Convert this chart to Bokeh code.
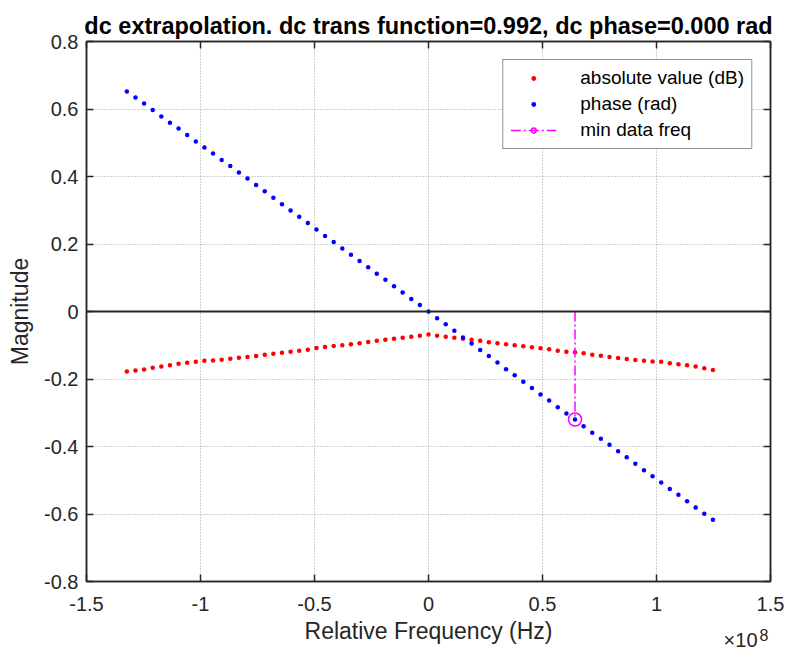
from bokeh.plotting import figure
from bokeh.models import Range1d, FixedTicker, LinearAxis, Span, Legend, LegendItem, Title
from bokeh.embed import file_html
from bokeh.resources import INLINE

# ---------------- data ----------------
freq_mhz = [-132.30, -128.52, -124.74, -120.96, -117.18, -113.40, -109.62, -105.84, -102.06,
            -98.28, -94.50, -90.72, -86.94, -83.16, -79.38, -75.60, -71.82, -68.04, -64.26,
            -60.48, -56.70, -52.92, -49.14, -45.36, -41.58, -37.80, -34.02, -30.24, -26.46,
            -22.68, -18.90, -15.12, -11.34, -7.56, -3.78, 0.00, 3.78, 7.56, 11.34, 15.12,
            18.90, 22.68, 26.46, 30.24, 34.02, 37.80, 41.58, 45.36, 49.14, 52.92, 56.70,
            60.48, 64.26, 68.04, 71.82, 75.60, 79.38, 83.16, 86.94, 90.72, 94.50, 98.28,
            102.06, 105.84, 109.62, 113.40, 117.18, 120.96, 124.74]

abs_db = [-0.178, -0.175, -0.172, -0.167, -0.163, -0.159, -0.155, -0.152, -0.149, -0.146,
          -0.145, -0.143, -0.140, -0.137, -0.135, -0.132, -0.128, -0.125, -0.122, -0.119,
          -0.116, -0.113, -0.108, -0.105, -0.102, -0.100, -0.097, -0.094, -0.090, -0.087,
          -0.084, -0.081, -0.078, -0.075, -0.072, -0.068, -0.072, -0.075, -0.078, -0.081,
          -0.084, -0.087, -0.091, -0.094, -0.097, -0.100, -0.103, -0.106, -0.109, -0.112,
          -0.116, -0.119, -0.121, -0.124, -0.128, -0.131, -0.135, -0.138, -0.141, -0.144,
          -0.146, -0.148, -0.149, -0.153, -0.156, -0.159, -0.163, -0.168, -0.173]

phase_rad = [0.652, 0.634, 0.616, 0.597, 0.578, 0.559, 0.542, 0.523, 0.504, 0.486,
             0.468, 0.449, 0.431, 0.412, 0.394, 0.375, 0.356, 0.337, 0.318, 0.299,
             0.281, 0.262, 0.243, 0.224, 0.206, 0.187, 0.168, 0.150, 0.131, 0.112,
             0.094, 0.075, 0.056, 0.037, 0.019, 0.000, -0.020, -0.038, -0.057, -0.077,
             -0.095, -0.114, -0.132, -0.151, -0.171, -0.189, -0.208, -0.227, -0.246, -0.264,
             -0.284, -0.302, -0.320, -0.340, -0.359, -0.377, -0.395, -0.414, -0.432, -0.451,
             -0.470, -0.488, -0.507, -0.526, -0.543, -0.562, -0.581, -0.599, -0.617]

min_data_freq_mhz = 64.26
min_data_phase = -0.320

title_text = "dc extrapolation. dc trans function=0.992, dc phase=0.000 rad"
x_label = "Relative Frequency (Hz)"
y_label = "Magnitude"
series_labels = ["absolute value (dB)", "phase (rad)", "min data freq"]

x_ticks = [-1.5, -1.0, -0.5, 0.0, 0.5, 1.0, 1.5]
x_tick_labels = ["-1.5", "-1", "-0.5", "0", "0.5", "1", "1.5"]
y_ticks = [-0.8, -0.6, -0.4, -0.2, 0.0, 0.2, 0.4, 0.6, 0.8]
y_tick_labels = ["-0.8", "-0.6", "-0.4", "-0.2", "0", "0.2", "0.4", "0.6", "0.8"]
x_exponent_base = "\u00d710"
x_exponent = "8"

# ---------------- figure ----------------
FONT = "Liberation Sans"
AX = "#262626"

x = [f / 100.0 for f in freq_mhz]          # in units of 1e8 Hz
xm = min_data_freq_mhz / 100.0

p = figure(width=786, height=650, output_backend="svg", toolbar_location=None,
           x_range=Range1d(-1.5, 1.5), y_range=Range1d(-0.8, 0.8),
           min_border_left=86, min_border_right=16, min_border_top=41, min_border_bottom=69,
           x_axis_location="below", y_axis_location="left")
p.background_fill_color = "white"
p.border_fill_color = "white"
p.outline_line_color = AX
p.outline_line_width = 1.5

p.title.text = title_text
p.title.align = "center"
p.title.text_font = FONT
p.title.text_font_size = "23.5px"
p.title.text_font_style = "bold"
p.title.text_color = "black"
p.title.standoff = 6

xt = FixedTicker(ticks=x_ticks)
yt = FixedTicker(ticks=y_ticks)

for ax, tk, labs, ticks in [(p.xaxis[0], xt, x_tick_labels, x_ticks), (p.yaxis[0], yt, y_tick_labels, y_ticks)]:
    ax.ticker = tk
    ax.major_label_overrides = {t: l for t, l in zip(ticks, labs)}
    ax.major_tick_in = 7
    ax.major_tick_out = 0
    ax.minor_tick_line_color = None
    ax.axis_line_color = AX
    ax.axis_line_width = 1.5
    ax.major_tick_line_color = AX
    ax.major_tick_line_width = 1.5
    ax.major_label_text_font = FONT
    ax.major_label_text_font_size = "20px"
    ax.major_label_text_color = AX
    ax.axis_label_text_font = FONT
    ax.axis_label_text_font_size = "23px"
    ax.axis_label_text_font_style = "normal"
    ax.axis_label_text_color = AX

p.xaxis.axis_label = x_label
p.yaxis.axis_label = y_label
p.xaxis.major_label_standoff = 15
p.xaxis.axis_label_standoff = 4
p.yaxis.major_label_standoff = 8
p.yaxis.axis_label_standoff = 8

# mirrored axes (ticks only) on top and right
top_ax = LinearAxis(ticker=xt, major_tick_in=7, major_tick_out=0, minor_tick_line_color=None,
                    axis_line_color=AX, axis_line_width=1.5, major_tick_line_color=AX,
                    major_tick_line_width=1.5, major_label_text_color=None,
                    major_label_text_font_size="1px", major_label_standoff=0)
right_ax = LinearAxis(ticker=yt, major_tick_in=7, major_tick_out=0, minor_tick_line_color=None,
                      axis_line_color=AX, axis_line_width=1.5, major_tick_line_color=AX,
                      major_tick_line_width=1.5, major_label_text_color=None,
                      major_label_text_font_size="1px", major_label_standoff=0)
p.add_layout(top_ax, "above")
p.add_layout(right_ax, "right")

# x-axis exponent ("x10^8") placed under the axis, right-aligned (titles are not clipped)
p.add_layout(Title(text=x_exponent_base, align="right", offset=13, vertical_align="top",
                   standoff=-36, text_font=FONT, text_font_size="20px",
                   text_font_style="normal", text_color=AX), "below")
p.add_layout(Title(text=x_exponent, align="right", offset=2, vertical_align="top",
                   standoff=-36, text_font=FONT, text_font_size="16px",
                   text_font_style="normal", text_color=AX), "below")

for g in (p.xgrid[0], p.ygrid[0]):
    g.grid_line_color = "#a0a0a0"
    g.grid_line_dash = "1 2"
    g.grid_line_width = 1
p.xgrid.ticker = xt
p.ygrid.ticker = yt

# zero line
p.add_layout(Span(location=0, dimension="width", line_color=AX, line_width=1.8))

r_abs = p.scatter(x, abs_db, marker="circle", size=4.5, fill_color="#ff0000", line_color=None)
r_ph = p.scatter(x, phase_rad, marker="circle", size=4.5, fill_color="#0000ff", line_color=None)
r_ml = p.line([xm, xm], [0, min_data_phase], line_color="#ff00ff", line_width=1.5, line_dash="10 3 2 3")
r_mc = p.scatter([xm], [min_data_phase], marker="circle", size=13, fill_color=None,
                 line_color="#ff00ff", line_width=1.5)

legend = Legend(items=[LegendItem(label=series_labels[0], renderers=[r_abs]),
                       LegendItem(label=series_labels[1], renderers=[r_ph]),
                       LegendItem(label=series_labels[2], renderers=[r_ml, r_mc])],
                location="top_right", margin=18, padding=7, spacing=4,
                glyph_width=46, glyph_height=12, label_height=20, label_standoff=24,
                label_text_font=FONT, label_text_font_size="19px", label_text_color="black",
                border_line_color=AX, border_line_width=1.2,
                background_fill_color="white", background_fill_alpha=1.0)
p.add_layout(legend)

open("out.html", "w").write(file_html(p, INLINE))
